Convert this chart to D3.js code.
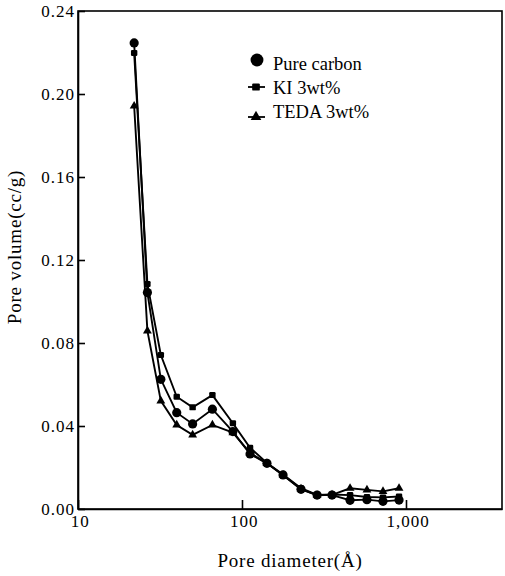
<!DOCTYPE html>
<html>
<head>
<meta charset="utf-8">
<script src="https://cdn.jsdelivr.net/npm/d3@7"></script>
<style>
  html, body { margin: 0; padding: 0; background: #fff; }
  svg { display: block; font-family: "Liberation Serif", "DejaVu Serif", serif; }
  .tk path, .tk line { stroke: #000; stroke-width: 1.6; }
</style>
</head>
<body>
<svg id="ch" width="505" height="576"></svg>
<script>
// pore diameter (Å) and pore volume (cc/g)
const diam  = [22, 26.5, 32, 40, 50, 66, 88, 112, 142, 178, 229, 287, 354, 456, 578, 724, 907];
const pure  = [0.2246, 0.1043, 0.0625, 0.0464, 0.0410, 0.0481, 0.0373, 0.0265, 0.0220, 0.0164, 0.0095, 0.0067, 0.0067, 0.0042, 0.0045, 0.0037, 0.0043];
const ki    = [0.2198, 0.1084, 0.0742, 0.0541, 0.0490, 0.0549, 0.0413, 0.0295, 0.0222, 0.0166, 0.0100, 0.0068, 0.0070, 0.0067, 0.0058, 0.0056, 0.0060];
const teda  = [0.1942, 0.0858, 0.0521, 0.0405, 0.0357, 0.0405, 0.0368, 0.0270, 0.0220, 0.0163, 0.0097, 0.0066, 0.0068, 0.0100, 0.0092, 0.0085, 0.0100];
const names = ['Pure carbon', 'KI 3wt%', 'TEDA 3wt%'];
const xTicks = [10, 100, 1000];
const yTicks = [0, 0.04, 0.08, 0.12, 0.16, 0.20, 0.24];

const svg = d3.select('#ch');
const L = 78, R = 502, T = 11, B = 509;
const x = d3.scaleLog().domain([10, 3850]).range([L, R]);
const y = d3.scaleLinear().domain([0, 0.24]).range([B, T]);

const tkTxt = s => s.selectAll('text')
  .style('font-family', '"Liberation Serif", serif').style('font-size', '17px')
  .style('letter-spacing', '1px').style('fill', '#000');

// frame
svg.append('rect').attr('x', L).attr('y', T).attr('width', R - L).attr('height', B - T)
  .attr('fill', 'none').attr('stroke', '#000').attr('stroke-width', 1.6);

svg.append('g').attr('class', 'tk').attr('transform', `translate(0,${B})`)
  .call(d3.axisBottom(x).tickValues(xTicks).tickFormat(d3.format(',')).tickSizeInner(-9).tickSizeOuter(0).tickPadding(6))
  .call(tkTxt)
  .selectAll('text').attr('dx', '0.1em');

svg.append('g').attr('class', 'tk').attr('transform', `translate(${L},0)`)
  .call(d3.axisLeft(y).tickValues(yTicks).tickFormat(d3.format('.2f')).tickSizeInner(-7).tickSizeOuter(0).tickPadding(3))
  .call(tkTxt);

// axis titles
svg.append('text').attr('x', (L + R) / 2).attr('y', 567).attr('text-anchor', 'middle')
  .style('font-size', '19px').style('letter-spacing', '0.8px').text('Pore diameter(Å)');
svg.append('text').attr('transform', 'translate(21,247) rotate(-90)').attr('text-anchor', 'middle')
  .style('font-size', '19px').style('letter-spacing', '0.8px').text('Pore volume(cc/g)');

// marker shapes
const mk = [
  (g, s) => g.append('circle').attr('r', 4.6 * s),
  (g, s) => g.append('rect').attr('x', -3.2 * s).attr('y', -3 * s).attr('width', 6.4 * s).attr('height', 6 * s).attr('rx', 1.2),
  (g, s) => g.append('path').attr('d', d3.symbol(d3.symbolTriangle, 34 * s * s)())
];

const line = d3.line().x(d => x(d[0])).y(d => y(d[1]));
[pure, ki, teda].forEach((vals, i) => {
  const pts = diam.map((d, j) => [d, vals[j]]);
  svg.append('path').datum(pts).attr('d', line).attr('fill', 'none').attr('stroke', '#000').attr('stroke-width', 1.9);
  pts.forEach(p => mk[i](svg.append('g').attr('transform', `translate(${x(p[0])},${y(p[1])})`), 1));
});

// legend
const lg = [[257, 60], [256, 87], [256, 117]];
const ty = [64, 88, 112];
names.forEach((n, i) => {
  const g = svg.append('g').attr('transform', `translate(${lg[i][0]},${lg[i][1]})`);
  if (i) g.append('line').attr('x1', -8).attr('x2', 9).attr('stroke', '#000').attr('stroke-width', 1.8);
  mk[i](g, i ? 1.2 : 1.4);
  svg.append('text').attr('x', 273).attr('y', ty[i]).attr('dy', '0.35em')
    .style('font-size', '18.5px').text(n);
});
</script>
</body>
</html>
